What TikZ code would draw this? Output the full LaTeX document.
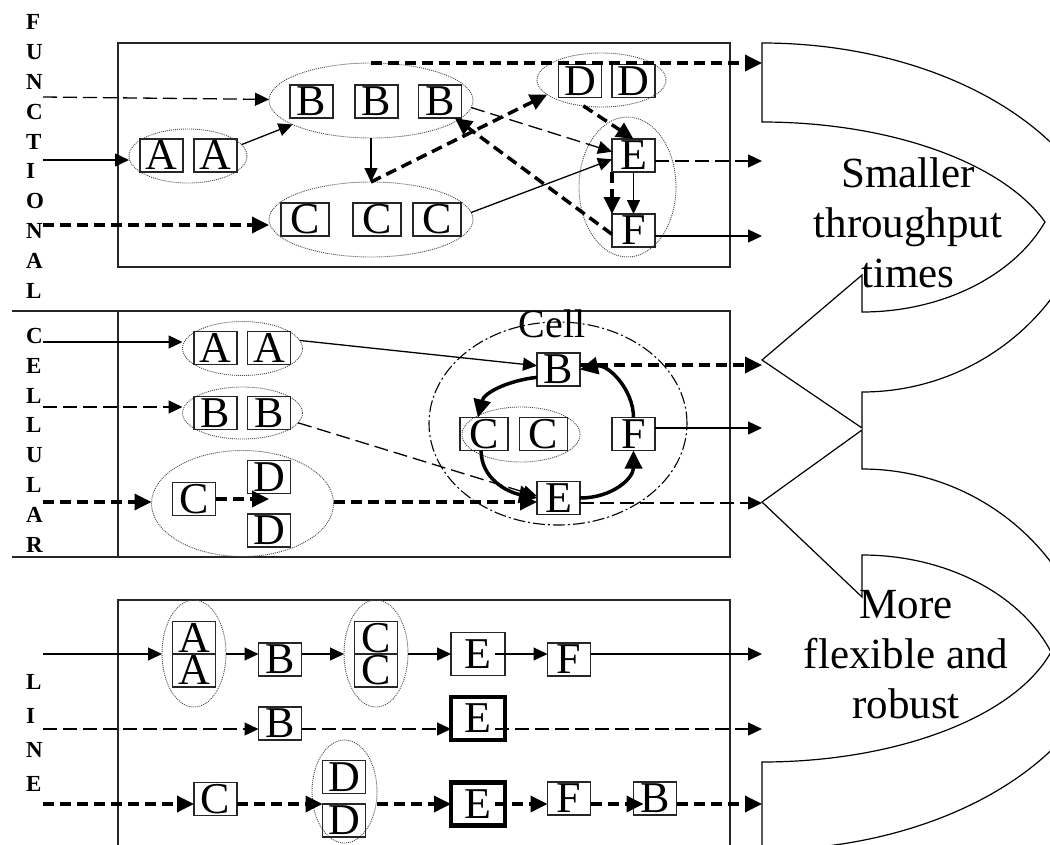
\documentclass[tikz,border=0pt]{standalone}
\usepackage{fontspec}
\setmainfont{Liberation Serif}
\usetikzlibrary{arrows.meta,shapes.geometric,calc}
\tikzset{
 bx/.style={draw=black!85, line width=1.3pt, font=\fontsize{44}{44}\selectfont, inner sep=0pt, outer sep=0pt, text height=28.8pt, text depth=0pt, minimum width=43pt, minimum height=33pt},
 wbx/.style={bx, minimum width=48pt},
 lbx/.style={bx, minimum width=54pt, minimum height=43pt},
 tbx/.style={lbx, draw=black, line width=4.5pt},
 grp/.style={ellipse, draw=black!70, line width=0.9pt, dash pattern=on 1pt off 1pt, inner sep=0pt, outer sep=0pt},
 sarr/.style={line width=1.3pt, -{Triangle[length=14pt,width=13pt]}},
 tdash/.style={sarr, dash pattern=on 14pt off 6pt},
 kdash/.style={line width=3.5pt, dash pattern=on 11pt off 6pt, -{Triangle[length=17pt,width=16pt]}},
 cyc/.style={line width=3.5pt, -{Triangle[length=18pt,width=17pt]}},
 panel/.style={draw=black!85, line width=1.5pt},
 bigarr/.style={draw=black, line width=1.2pt},
 vlab/.style={anchor=base west, align=left, font=\bfseries\fontsize{23}{29.8}\selectfont, inner sep=0pt},
 btxt/.style={anchor=base, align=center, font=\fontsize{43}{50}\selectfont, inner sep=0pt},
}
\begin{document}
\begin{tikzpicture}[x=1pt,y=-1pt]
\useasboundingbox (0,0) rectangle (1050,844);
\clip (0,0) rectangle (1050,844);

% ---------- big curved arrows ----------
\draw[bigarr] (762,43) .. controls (912.8,43) and (1046.9,106.3) .. (1094.3,200)
  .. controls (1074.9,310.7) and (976.7,392) .. (862,392) -- (862,428) -- (762,360)
  -- (862,275) -- (862,312) .. controls (941.4,312) and (1013.2,276.5) .. (1045,222)
  .. controls (1002.5,162.2) and (889,122) .. (762,122) -- cycle;
\draw[bigarr] (762,502) -- (862,430) -- (862,469)
  .. controls (987.8,469) and (1091.3,566.1) .. (1096.8,689)
  .. controls (1050.7,784.7) and (915.3,850) .. (762,850) -- (762,762)
  .. controls (896.7,762) and (1015,716.9) .. (1051,652)
  .. controls (1020.5,593.8) and (945.4,555) .. (862,555) -- (862,597) -- cycle;
\node[btxt] (t1) at (908,287) {Smaller\\throughput\\times};
\node[btxt] (t2) at (906,718) {More\\flexible and\\robust};

% ---------- side labels ----------
\node[vlab] (lf) at (26,298) {F\\U\\N\\C\\T\\I\\O\\N\\A\\L};
\node[vlab] (lc) at (26,552) {C\\E\\L\\L\\U\\L\\A\\R};
\node[vlab, font=\bfseries\fontsize{23}{34}\selectfont] (ll) at (26,791) {L\\I\\N\\E};

% free ends
\coordinate (s1) at (43,97);  \coordinate (s2) at (43,160); \coordinate (s3) at (43,225);
\coordinate (o1) at (762,63); \coordinate (o4) at (762,161); \coordinate (o5) at (762,236);
\coordinate (s4) at (43,342); \coordinate (s5) at (43,407); \coordinate (s6) at (43,502);
\coordinate (o6) at (762,365); \coordinate (o7) at (762,428); \coordinate (o8) at (762,503);
\coordinate (s7) at (43,654); \coordinate (s8) at (43,729); \coordinate (s9) at (43,804);
\coordinate (o9) at (762,654); \coordinate (o10) at (762,729); \coordinate (o11) at (762,804);

% ---------- FUNCTIONAL ----------
\draw[panel] (118,43) rectangle (730,267);
\node[grp, minimum width=118pt, minimum height=54pt] (EA) at (188,156) {};
\node[grp, minimum width=204pt, minimum height=75pt] (EB) at (371,100.5) {};
\node[grp, minimum width=204pt, minimum height=75pt] (EC) at (371,219.5) {};
\node[grp, minimum width=129pt, minimum height=54pt] (ED) at (601.5,80) {};
\node[grp, minimum width=97pt, minimum height=140pt] (EEF) at (627.5,187) {};
\node[bx] (fA1) at (161.5,155.5) {A};
\node[bx] (fA2) at (215.5,155.5) {A};
\node[bx] (fB1) at (311.5,101.5) {B};
\node[bx] (fB2) at (376.5,101.5) {B};
\node[bx] (fB3) at (440,101.5) {B};
\node[wbx] (fC1) at (305,219.5) {C};
\node[wbx] (fC2) at (377,219.5) {C};
\node[wbx] (fC3) at (437,219.5) {C};
\node[bx] (fD1) at (580,81) {D};
\node[bx] (fD2) at (633.5,81) {D};
\node[bx] (fE) at (633.5,155.5) {E};
\node[bx] (fF) at (633.5,230.5) {F};

\draw[tdash] (s1) -- (EB);
\draw[sarr] (s2) -- (s2 -| EA.west);
\draw[kdash] (s3) -- (s3 -| EC.west);
\draw[sarr] (EA.12) -- (EB.197);
\draw[kdash] (EB.north) -- (o1);
\draw[sarr] (EB.south) -- (EC.north);
\draw[kdash] (EC.north) -- (ED.195);
\draw[tdash] (EB.-4) -- (fE.170);
\draw[kdash] (ED.235) -- (fE.north);
\draw[kdash] (fF.190) -- (fB3.-48);
\draw[sarr] (EC.4) -- (fE.190);
\draw[tdash] (fE.east |- o4) -- (o4);
\draw[sarr] (fE.south) -- (fF.north);
\draw[kdash] (fE.south west) -- (fF.north west);
\draw[sarr] (fF.east |- o5) -- (o5);

% ---------- CELLULAR ----------
\draw[panel] (12,311) -- (730,311) -- (730,557) -- (12,557);
\draw[panel] (118,311) -- (118,557);
\node[grp, minimum width=120pt, minimum height=54pt] (CA) at (242.5,348.5) {};
\node[grp, minimum width=120pt, minimum height=52pt] (CB) at (242.5,413) {};
\node[grp, minimum width=182pt, minimum height=106pt] (CD) at (242.5,503.5) {};
\node[bx] (cA1) at (215.5,348) {A};
\node[bx] (cA2) at (269,348) {A};
\node[bx] (cB1) at (215.5,413) {B};
\node[bx] (cB2) at (269,413) {B};
\node[bx] (cC) at (194,499) {C};
\node[bx] (cD1) at (269,477) {D};
\node[bx] (cD2) at (269,530.5) {D};
\node[ellipse, draw, line width=1.1pt, dash pattern=on 12pt off 3pt on 2pt off 3pt, minimum width=258pt, minimum height=203pt, inner sep=0pt] (cell) at (558,423.5) {};
\node[font=\fontsize{40}{40}\selectfont, anchor=base, inner sep=0pt] (celllbl) at (552,337) {Cell};
\node[grp, minimum width=118pt, minimum height=55pt] (cCC) at (521,434.5) {};
\node[bx] (xB) at (558.5,369.5) {B};
\node[wbx] (xC1) at (484,434) {C};
\node[wbx] (xC2) at (543.5,434) {C};
\node[bx] (xF) at (633.5,434) {F};
\node[bx] (xE) at (558.5,498) {E};

\draw[sarr] (s4) -- (s4 -| CA.west);
\draw[tdash] (s5) -- (s5 -| CB.west);
\draw[kdash] (s6) -- (s6 -| CD.west);
\draw[kdash] (cC.east) -- (cC.east -| cD1.south);
\draw[kdash] (CD.east |- s6) -- (s6 -| xE.west);
\draw[sarr] (CA.8) -- (xB.170);
\draw[tdash] (CB.-10) -- (xE.175);
\draw[cyc] (xB.200) .. controls +(-28,3) and +(6,-25) .. (xC1.110);
\draw[cyc] (xC1.260) .. controls +(0,28) and +(-30,-6) .. (xE.west);
\draw[cyc] (xE.east) .. controls +(32,0) and +(0,28) .. (xF.south);
\draw[cyc] (xF.north) .. controls +(0,-28) and +(28,-6) .. (xB.east);
\draw[kdash] (xB.east |- o6) -- (o6);
\draw[sarr] (xF.east |- o7) -- (o7);
\draw[tdash] (xE.east |- o8) -- (o8);

% ---------- LINE ----------
\draw[panel] (118,850) -- (118,600) -- (730,600) -- (730,850);
\node[grp, minimum width=64pt, minimum height=107pt] (LA) at (194,653.5) {};
\node[grp, minimum width=64pt, minimum height=107pt] (LC) at (376,653.5) {};
\node[grp, minimum width=65pt, minimum height=103pt] (LD) at (344.5,791.5) {};
\node[bx] (lA1) at (194,638) {A};
\node[bx] (lA2) at (194,670.5) {A};
\node[bx] (lB1) at (280,659.5) {B};
\node[bx] (lC1) at (376,638) {C};
\node[bx] (lC2) at (376,670.5) {C};
\node[lbx] (lE1) at (478,654) {E};
\node[bx] (lF1) at (569,659.5) {F};
\node[bx] (lB2) at (280,723.5) {B};
\node[tbx] (lE2) at (478,718.5) {E};
\node[bx] (lC3) at (215.5,799) {C};
\node[bx] (lD1) at (344,777) {D};
\node[bx] (lD2) at (344,820.5) {D};
\node[tbx] (lE3) at (478,804.2) {E};
\node[bx] (lF3) at (569,798.5) {F};
\node[bx] (lB3) at (655,798.5) {B};

\draw[sarr] (s7) -- (s7 -| LA.west);
\draw[sarr] (LA.east |- s7) -- (s7 -| lB1.west);
\draw[sarr] (lB1.east |- s7) -- (s7 -| LC.west);
\draw[sarr] (LC.east |- s7) -- (s7 -| lE1.west);
\draw[sarr] ($(lE1.east |- s7)+(-10,0)$) -- (s7 -| lF1.west);
\draw[sarr] (lF1.east |- s7) -- (o9);

\draw[tdash] (s8) -- (s8 -| lB2.west);
\draw[tdash] (lB2.east |- s8) -- (s8 -| lE2.west);
\draw[tdash] ($(lE2.east |- s8)+(-10,0)$) -- (o10);

\draw[kdash] (s9) -- (s9 -| lC3.west);
\draw[kdash] (lC3.east |- s9) -- (s9 -| lD2.west);
\draw[kdash] (LD.east |- s9) -- (s9 -| lE3.west);
\draw[kdash] ($(lE3.east |- s9)+(-10,0)$) -- (s9 -| lF3.west);
\draw[kdash] (lF3.east |- s9) -- ($(s9 -| lB3.west)+(10,0)$);
\draw[kdash] (lB3.east |- s9) -- (o11);
\end{tikzpicture}
\end{document}
